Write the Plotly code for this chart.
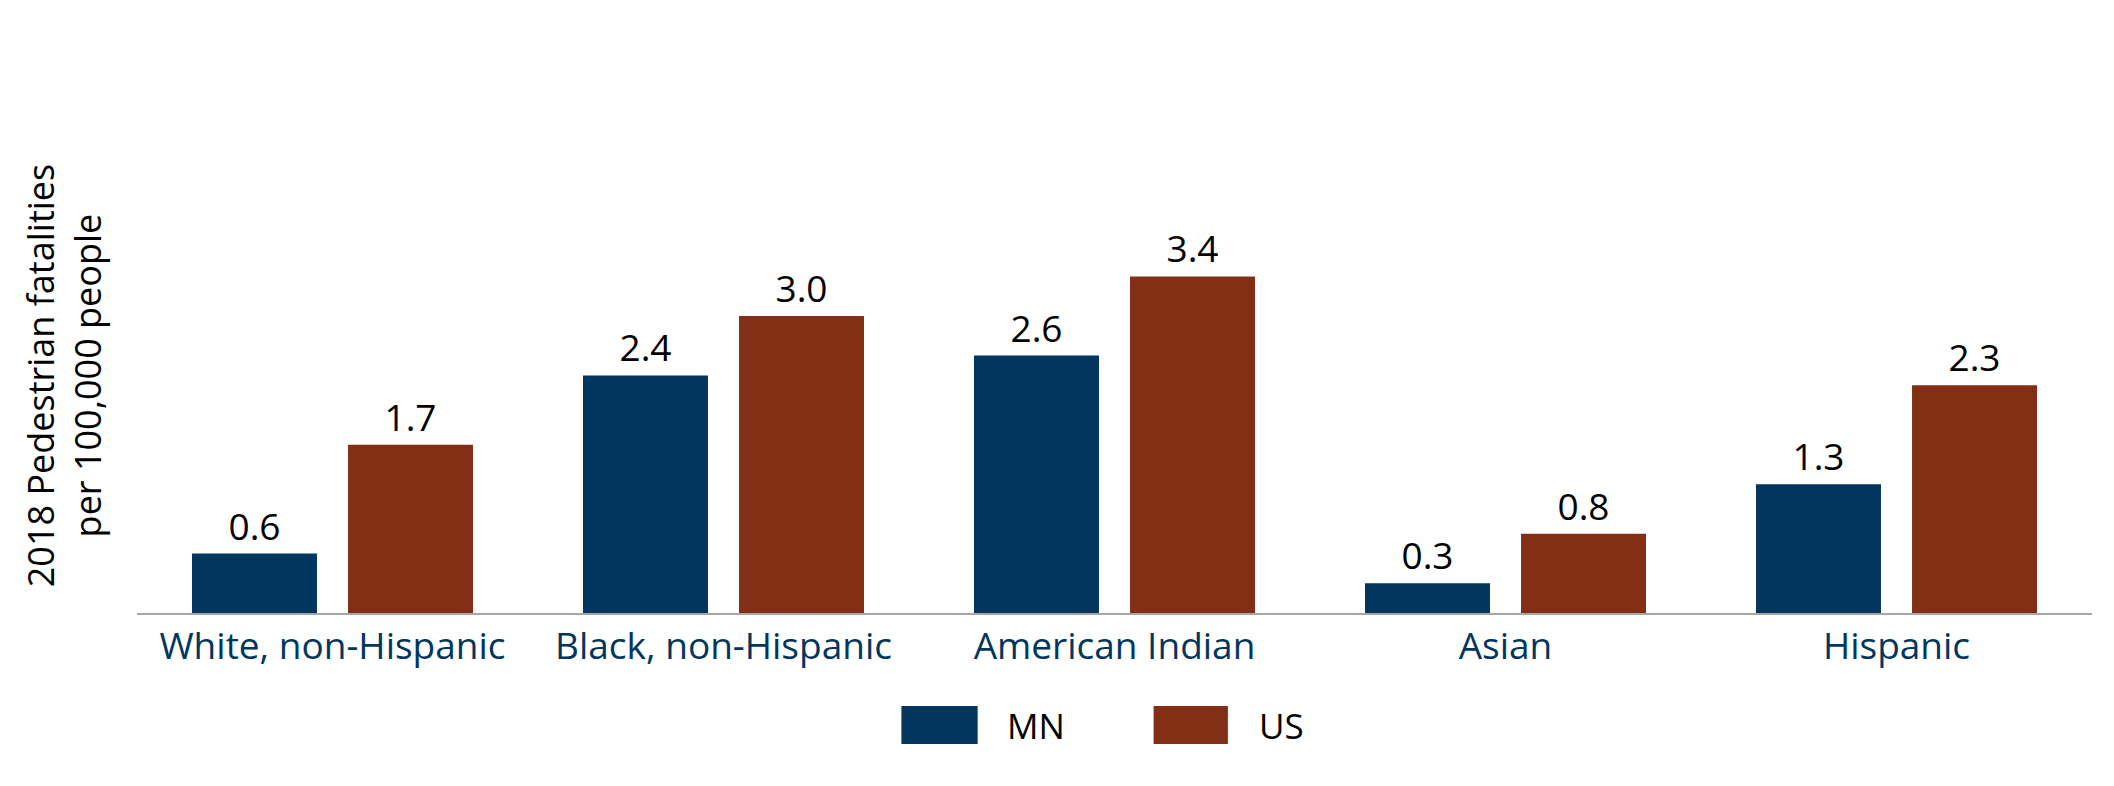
import plotly.graph_objects as go

# Data

categories = ["White, non-Hispanic", "Black, non-Hispanic", "American Indian", "Asian", "Hispanic"]
mn_values = [0.6, 2.4, 2.6, 0.3, 1.3]
us_values = [1.7, 3.0, 3.4, 0.8, 2.3]
series_names = ["MN", "US"]
series_colors = ["#02365F", "#832F16"]

FONT = "Open Sans"

fig = go.Figure()

for name, values, color in zip(series_names, [mn_values, us_values], series_colors):
    fig.add_trace(
        go.Bar(
            x=categories,
            y=values,
            name=name,
            marker=dict(color=color, line=dict(width=0)),
            text=[f"{v:.1f}" for v in values],
            textposition="outside",
            textfont=dict(family=FONT, size=37, color="black"),
            cliponaxis=False,
            showlegend=False,
        )
    )

# Custom legend with large swatches (plotly legend icons are fixed small)

legend_boxes = [(0.391, 0.430), (0.520, 0.558)]
legend_text_x = [0.444, 0.573]
shapes = []
annotations = []
for (x0, x1), tx, name, color in zip(legend_boxes, legend_text_x, series_names, series_colors):
    shapes.append(dict(type="rect", xref="paper", yref="paper", x0=x0, x1=x1, y0=-0.331, y1=-0.235,
                       fillcolor=color, line=dict(width=0)))
    annotations.append(dict(text=name, xref="paper", yref="paper", x=tx, y=-0.283, xanchor="left",
                            yanchor="middle", showarrow=False, font=dict(family=FONT, size=35, color="black")))

annotations.append(dict(text="2018 Pedestrian fatalities<br>per 100,000 people", xref="paper", yref="paper",
                        x=-0.0373, y=0.598, textangle=-90, showarrow=False, xanchor="center", yanchor="middle",
                        font=dict(family=FONT, size=36, color="black")))

fig.update_layout(
    width=2114,
    height=786,
    margin=dict(l=129, r=30, t=209, b=181),
    paper_bgcolor="white",
    plot_bgcolor="white",
    barmode="group",
    bargap=0.202,
    bargroupgap=0.199,
    font=dict(family=FONT, size=36),
    xaxis=dict(
        showline=True,
        linecolor="#A6A6A6",
        linewidth=2,
        ticks="",
        tickfont=dict(family=FONT, size=37, color="#02365F"),
        showgrid=False,
    ),
    yaxis=dict(
        range=[0, 4],
        showticklabels=False,
        showgrid=False,
        zeroline=False,
        showline=False,
    ),
    shapes=shapes,
    annotations=annotations,
)

fig.write_html("out.html")
